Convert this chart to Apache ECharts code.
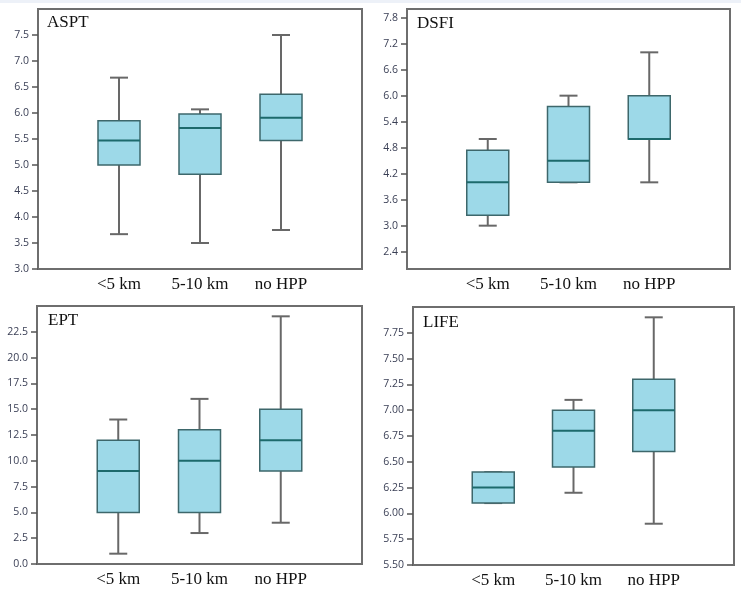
<!DOCTYPE html>
<html>
<head>
<meta charset="utf-8">
<script src="https://cdn.jsdelivr.net/npm/echarts@6/dist/echarts.min.js"></script>
<style>
html,body{margin:0;padding:0;background:#fff;}
#c{width:741px;height:590px;}
</style>
</head>
<body>
<div id="c"></div>
<script>
// ---- data ----
const categories = ['<5 km', '5-10 km', 'no HPP'];
const panelTitles = ['ASPT', 'DSFI', 'EPT', 'LIFE'];
// each row: [min, Q1, median, Q3, max]
const asptValues = [[3.67, 5.0, 5.47, 5.85, 6.68], [3.5, 4.82, 5.71, 5.98, 6.07], [3.75, 5.47, 5.91, 6.36, 7.5]];
const dsfiValues = [[3.0, 3.24, 4.0, 4.74, 5.0], [4.0, 4.0, 4.5, 5.75, 6.0], [4.0, 5.0, 5.0, 6.0, 7.0]];
const eptValues  = [[1, 5, 9, 12, 14], [3, 5, 10, 13, 16], [4, 9, 12, 15, 24]];
const lifeValues = [[6.1, 6.1, 6.25, 6.4, 6.4], [6.2, 6.45, 6.8, 7.0, 7.1], [5.9, 6.6, 7.0, 7.3, 7.9]];
// tick labels
const asptTicks = [3.0, 3.5, 4.0, 4.5, 5.0, 5.5, 6.0, 6.5, 7.0, 7.5];
const dsfiTicks = [2.4, 3.0, 3.6, 4.2, 4.8, 5.4, 6.0, 6.6, 7.2, 7.8];
const eptTicks  = [0.0, 2.5, 5.0, 7.5, 10.0, 12.5, 15.0, 17.5, 20.0, 22.5];
const lifeTicks = [5.50, 5.75, 6.00, 6.25, 6.50, 6.75, 7.00, 7.25, 7.50, 7.75];
// axis ranges
const asptRange = [3.0, 8.0];
const dsfiRange = [2.0, 8.0];
const eptRange  = [0, 25];
const lifeRange = [5.5, 8.0];

// ---- layout / styles ----
const panels = [
  {title: panelTitles[0], values: asptValues, ticks: asptTicks, range: asptRange, interval: 0.5, dec: 1,
   grid: {left: 38, top: 9, width: 324, height: 260}, tx: 47, ty: 24},
  {title: panelTitles[1], values: dsfiValues, ticks: dsfiTicks, range: dsfiRange, interval: 0.6, dec: 1,
   grid: {left: 407, top: 9, width: 323, height: 260}, tx: 417, ty: 25},
  {title: panelTitles[2], values: eptValues, ticks: eptTicks, range: eptRange, interval: 2.5, dec: 1,
   grid: {left: 37, top: 306, width: 325, height: 258}, tx: 48, ty: 322},
  {title: panelTitles[3], values: lifeValues, ticks: lifeTicks, range: lifeRange, interval: 0.25, dec: 2,
   grid: {left: 413, top: 307, width: 321, height: 258}, tx: 423, ty: 324}
];

const xCats = [''].concat(categories).concat(['']);

function renderBox(params, api) {
  const x = api.value(0);
  const lo = api.coord([x, api.value(1)]);
  const q1 = api.coord([x, api.value(2)]);
  const md = api.coord([x, api.value(3)]);
  const q3 = api.coord([x, api.value(4)]);
  const hi = api.coord([x, api.value(5)]);
  const cx = lo[0];
  const bw = 42, cw = 18;
  const wStyle = {stroke: '#686868', lineWidth: 2};
  return {
    type: 'group',
    children: [
      {type: 'line', shape: {x1: cx, y1: lo[1], x2: cx, y2: q1[1]}, style: wStyle},
      {type: 'line', shape: {x1: cx, y1: q3[1], x2: cx, y2: hi[1]}, style: wStyle},
      {type: 'line', shape: {x1: cx - cw / 2, y1: lo[1], x2: cx + cw / 2, y2: lo[1]}, style: wStyle},
      {type: 'line', shape: {x1: cx - cw / 2, y1: hi[1], x2: cx + cw / 2, y2: hi[1]}, style: wStyle},
      {type: 'rect', shape: {x: cx - bw / 2, y: q3[1], width: bw, height: q1[1] - q3[1]},
       style: {fill: '#9dd9e8', stroke: '#3d676b', lineWidth: 1.5}},
      {type: 'line', shape: {x1: cx - bw / 2, y1: md[1], x2: cx + bw / 2, y2: md[1]},
       style: {stroke: '#1d6a6c', lineWidth: 2}}
    ]
  };
}

const grids = [], xAxes = [], yAxes = [], series = [], graphics = [];
graphics.push({type: 'rect', left: 0, top: 0, shape: {width: 741, height: 3}, style: {fill: '#edf1f8'}, silent: true});

panels.forEach(function (p, i) {
  grids.push(Object.assign({show: true, borderColor: '#6e6e6e', borderWidth: 2, backgroundColor: '#fff'}, p.grid));
  xAxes.push({
    type: 'category', gridIndex: i, data: xCats, boundaryGap: false,
    axisLine: {show: true, lineStyle: {color: '#6e6e6e', width: 2}},
    axisTick: {show: false},
    axisLabel: {interval: 0, color: '#111', fontFamily: 'Liberation Serif', fontSize: 17, margin: 7},
    splitLine: {show: false}
  });
  yAxes.push({
    type: 'value', gridIndex: i, min: p.range[0], max: p.range[1], interval: p.interval,
    axisLine: {show: true, lineStyle: {color: '#6e6e6e', width: 2}},
    axisTick: {show: true, length: 6, customValues: p.ticks, lineStyle: {color: '#555', width: 1.5}},
    axisLabel: {customValues: p.ticks, color: '#3a3f55', fontFamily: 'Open Sans', fontSize: 10.5, margin: 9,
      formatter: (function (d) { return function (v) { return Number(v).toFixed(d); }; })(p.dec)},
    splitLine: {show: false}
  });
  series.push({
    type: 'custom', xAxisIndex: i, yAxisIndex: i,
    renderItem: renderBox,
    encode: {x: 0, y: [1, 2, 3, 4, 5]},
    data: p.values.map(function (v, k) { return [k + 1].concat(v); }),
    silent: true
  });
  graphics.push({type: 'text', left: p.tx, top: p.ty - 10,
    style: {text: p.title, font: '17px "Liberation Serif"', fill: '#111'}});
});

const chart = echarts.init(document.getElementById('c'), null, {renderer: 'canvas'});
chart.setOption({
  animation: false,
  backgroundColor: '#fff',
  grid: grids, xAxis: xAxes, yAxis: yAxes, series: series, graphic: graphics
});
</script>
</body>
</html>
